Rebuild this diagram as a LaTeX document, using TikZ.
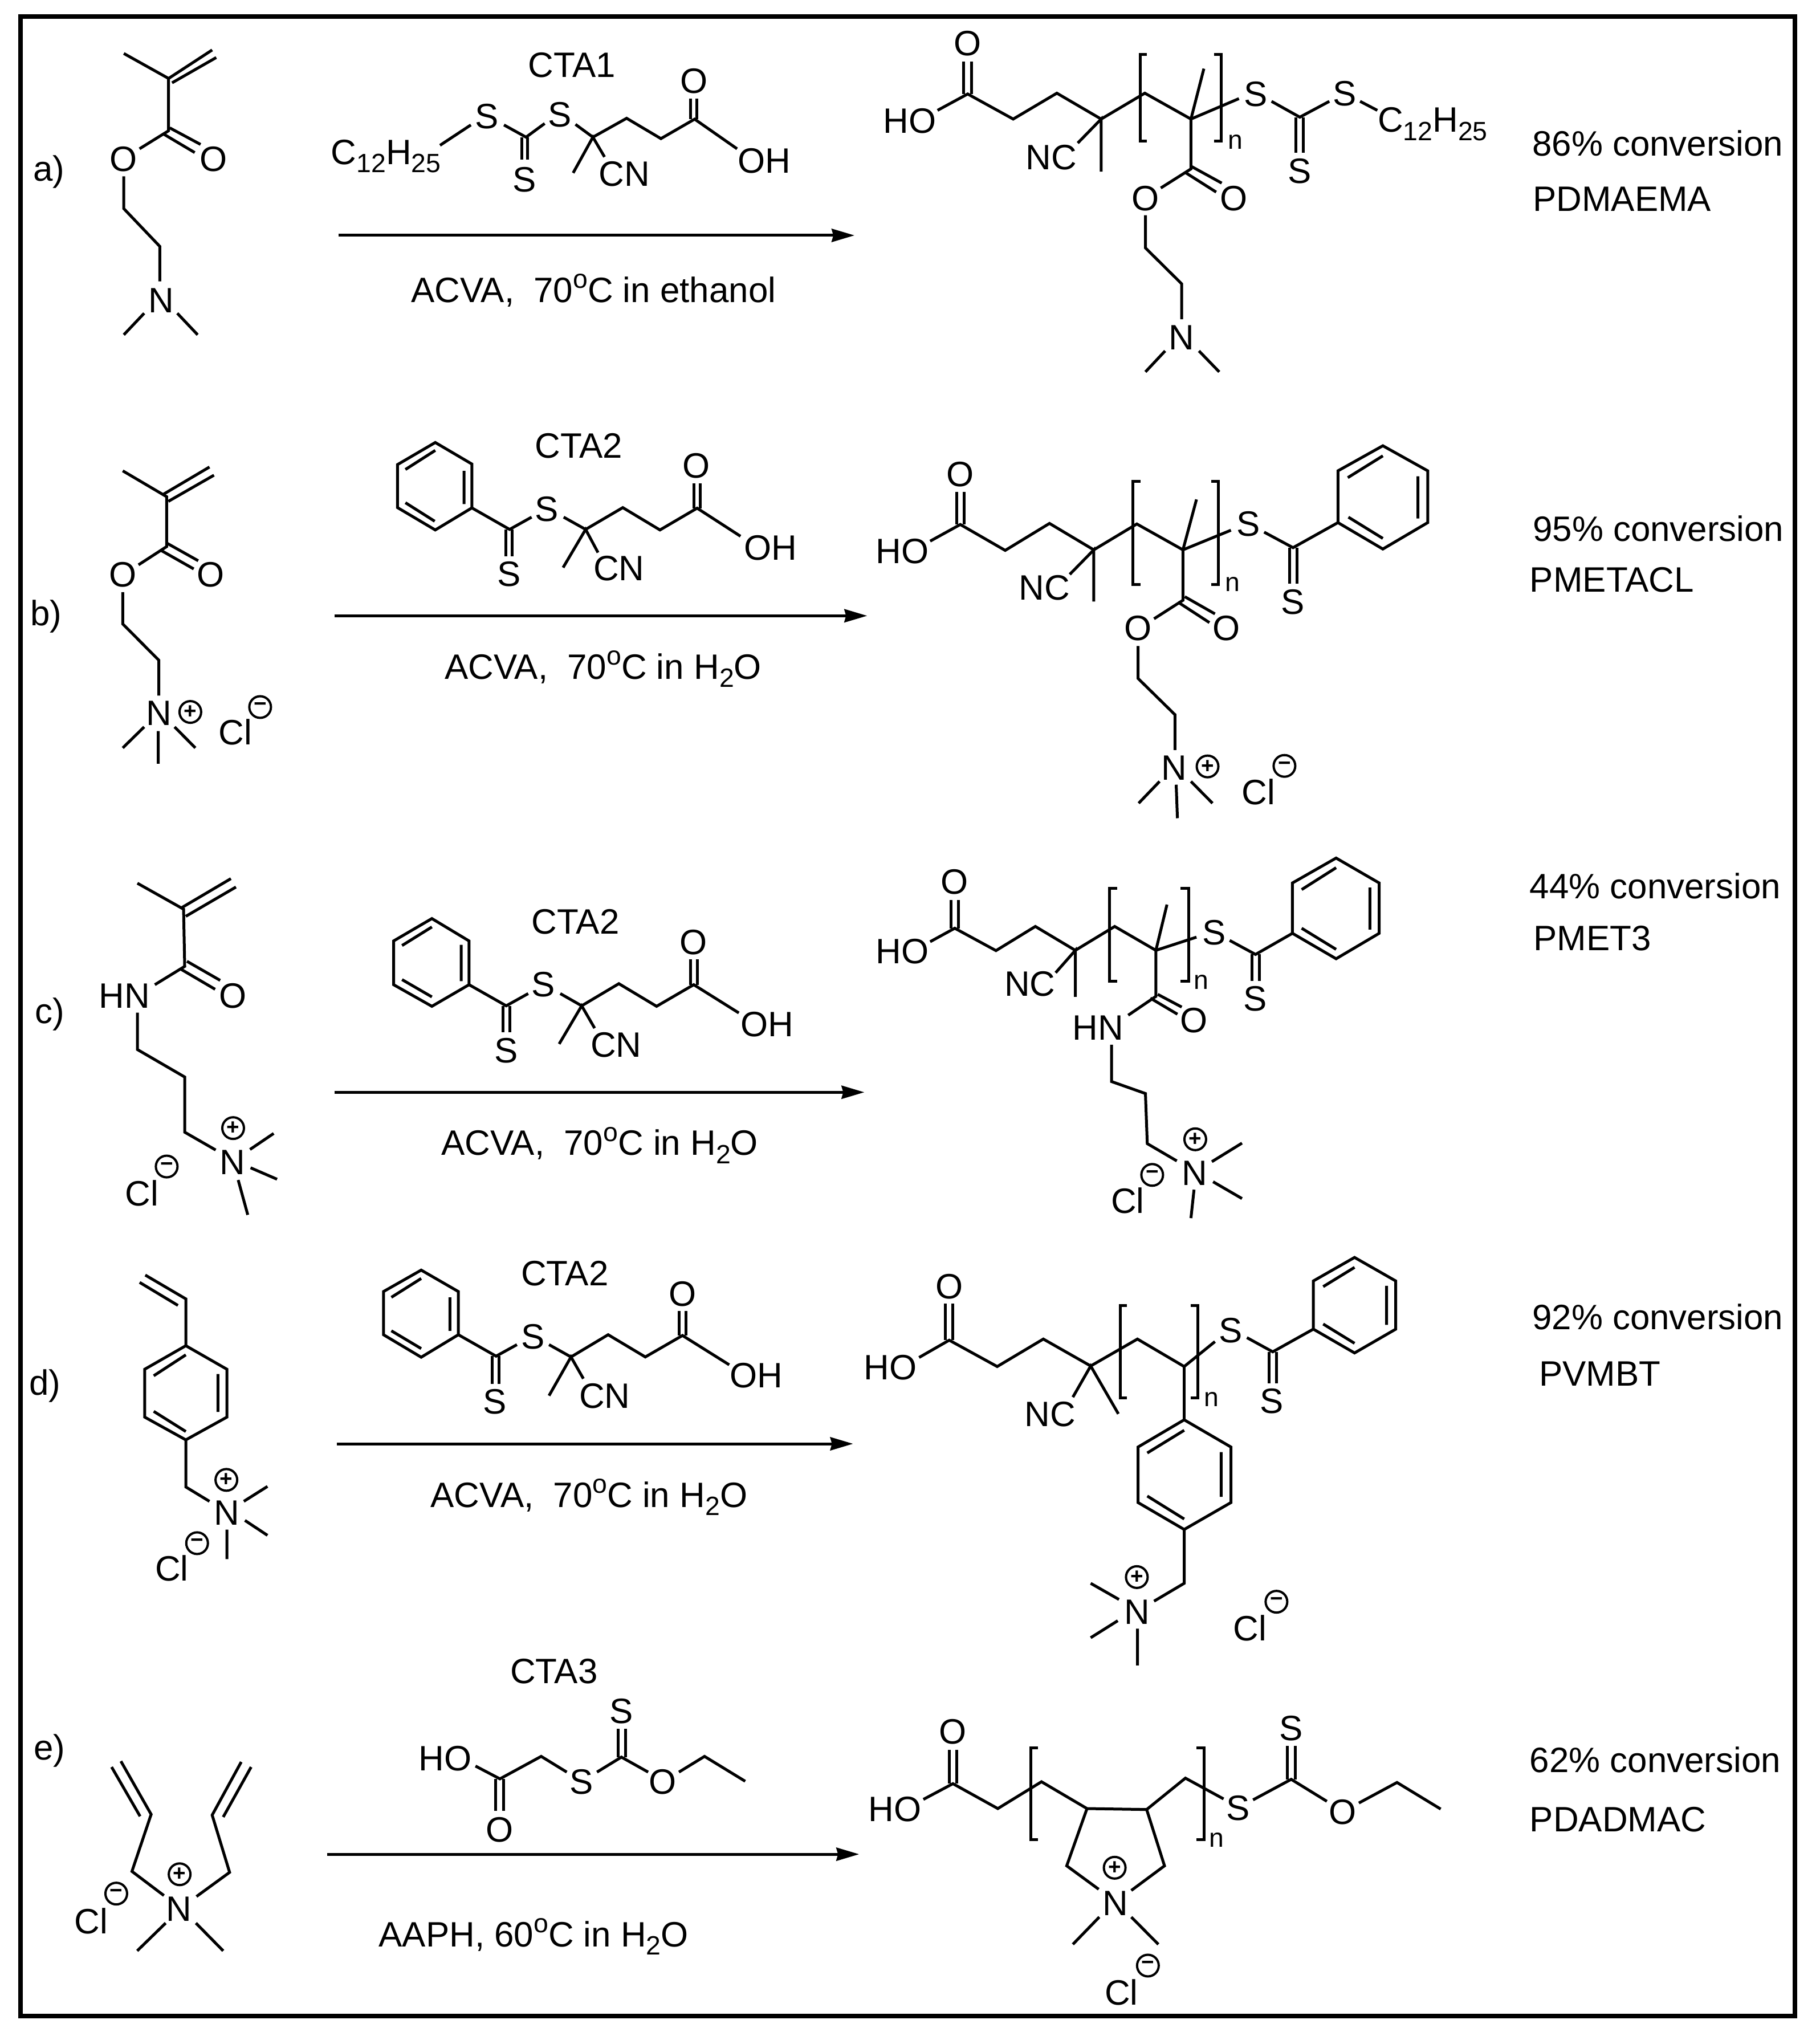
\documentclass[tikz,border=0pt]{standalone}
\usepackage{fontspec}
\setmainfont{Liberation Sans}
\usetikzlibrary{arrows.meta}
\newcommand{\subt}[1]{\raisebox{-.23em}{\fontsize{13.2}{14}\selectfont #1}}
\newcommand{\supo}{\raisebox{.40em}{\fontsize{13.2}{14}\selectfont o}}
\tikzset{
  crop/.style n args={4}{shift={(#1*0.01cm,-#2*0.01cm)},x={#3/1568*0.01cm},y={-#4/1568*0.01cm}},
  bond/.style={line width=0.05cm},
  lbl/.style={inner sep=0pt,outer sep=0pt,font=\fontsize{17.6}{20}\selectfont,anchor=base},
  txt/.style={lbl,anchor=base west},
  idx/.style={inner sep=0pt,outer sep=0pt,font=\fontsize{13.2}{14}\selectfont,anchor=base},
  chg/.style={circle,draw,line width=0.04cm,minimum size=0.38cm,inner sep=0pt,outer sep=0pt,font=\fontsize{11}{12}\selectfont\bfseries},
  rxn/.style={line width=0.05cm,-{Stealth[length=0.40cm,width=0.23cm,inset=0.03cm]}},
}
\begin{document}
\begin{tikzpicture}
\useasboundingbox (0,0) rectangle (31.93,-35.65);
\fill[white] (0,0) rectangle (31.93,-35.65);
\draw[line width=0.08cm] (0.364,-0.29) rectangle (31.49,-35.37);
% ---------- row a, left
\begin{scope}[crop={0}{0}{1600}{800}]
\node[lbl] (aL) at (84,622) {a)};
\node[lbl] (aO1) at (212,590) {O};
\node[lbl] (aO2) at (367,590) {O};
\node[lbl] (aN) at (277,1075) {N};
\node[lbl] (aCTA) at (984,266) {CTA1};
\node[lbl] (aR) at (664,565) {C\subt{12}H\subt{25}};
\node[lbl] (aS1) at (838,443) {S};
\node[lbl] (aS2) at (963,437) {S};
\node[lbl] (aS3) at (902,660) {S};
\node[lbl] (aCN) at (1074,640) {CN};
\node[lbl] (aO3) at (1194,320) {O};
\node[lbl] (aOH) at (1315,595) {OH};
\node[lbl] (aCond) at (1021,1040) {ACVA,\ \ 70\supo C in ethanol};
\coordinate (aS) at (582,810); \coordinate (aE) at (1470,810);
\draw[rxn] (aS) -- (aE);
\draw[bond] (213,184) -- (290,270) -- (290,450) -- (240,512);
\draw[bond] (290,270) -- (365,172) (296,285) -- (372,198);
\draw[bond] (282,462) -- (335,525) (292,440) -- (345,497);
\draw[bond] (213,607) -- (213,718) -- (275,848) -- (275,968);
\draw[bond] (248,1078) -- (213,1152) (305,1078) -- (340,1152);
\draw[bond] (757,500) -- (810,430) (867,430) -- (905,472) -- (937,425);
\draw[bond] (898,472) -- (898,550) (908,472) -- (908,550);
\draw[bond] (990,428) -- (1020,472) -- (1078,407) -- (1137,477) -- (1195,410) -- (1268,512);
\draw[bond] (1188,410) -- (1188,340) (1199,410) -- (1199,340);
\draw[bond] (986,595) -- (1020,472) -- (1040,540);
\end{scope}
% ---------- row a, right
\begin{scope}[crop={1500}{0}{1693}{750}]
\node[lbl] (apO1) at (184,205) {O};
\node[lbl] (apHO) at (90,488) {HO};
\node[lbl] (apNC) at (320,622) {NC};
\node[lbl] (apO2) at (473,772) {O};
\node[lbl] (apO3) at (617,772) {O};
\node[lbl] (apN) at (532,1283) {N};
\node[lbl] (apS1) at (652,390) {S};
\node[lbl] (apS2) at (797,388) {S};
\node[lbl] (apS3) at (724,672) {S};
\node[lbl] (apR) at (940,485) {C\subt{12}H\subt{25}};
\node[idx] (apn) at (619,548) {n};
\node[txt] (aConv) at (1102,572) {86\% conversion};
\node[txt] (aName) at (1103,775) {PDMAEMA};
\draw[bond] (135,405) -- (184,345) -- (258,437) -- (329,342) -- (401,437) -- (472,342) -- (547,437) -- (625,362);
\draw[bond] (177,345) -- (177,225) (190,345) -- (190,225);
\draw[bond] (363,525) -- (401,437) -- (401,630);
\draw[bond] (568,252) -- (547,437) -- (547,620) -- (498,690);
\draw[bond] (537,632) -- (588,705) (547,610) -- (597,672);
\draw[bond] (473,790) -- (473,910) -- (532,1042) -- (532,1172);
\draw[bond] (505,1288) -- (473,1365) (560,1288) -- (593,1365);
\draw[bond] (475,200) -- (465,200) -- (465,518) -- (475,518);
\draw[bond] (585,200) -- (596,200) -- (596,518) -- (585,518);
\draw[bond] (678,372) -- (724,430) -- (772,372);
\draw[bond] (718,430) -- (718,560) (730,430) -- (730,560);
\draw[bond] (822,372) -- (850,405);
\end{scope}
% ---------- row b, left
\begin{scope}[crop={0}{750}{1550}{750}]
\node[lbl] (bL) at (82,728) {b)};
\node[lbl] (bCTA) at (1028,112) {CTA2};
\node[lbl] (bO3) at (1237,185) {O};
\node[lbl] (bS1) at (971,345) {S};
\node[lbl] (bS2) at (904,583) {S};
\node[lbl] (bCN) at (1099,562) {CN};
\node[lbl] (bOH) at (1368,488) {OH};
\node[lbl] (bO1) at (218,585) {O};
\node[lbl] (bO2) at (374,585) {O};
\node[lbl] (bN) at (282,1095) {N};
\node[chg] (bP) at (338,1045) {+};
\node[lbl] (bCl) at (418,1165) {Cl};
\node[chg] (bM) at (462,1027) {−};
\node[lbl] (bCond) at (1071,925) {ACVA,\ \ 70\supo C in H\subt{2}O};
\coordinate (bS) at (594,692); \coordinate (bE) at (1540,692);
\draw[rxn] (bS) -- (bE);
\draw[bond] (218,160) -- (296,255) -- (296,438) -- (246,505);
\draw[bond] (291,245) -- (372,146) (299,272) -- (380,176);
\draw[bond] (286,452) -- (344,520) (296,425) -- (352,490);
\draw[bond] (218,605) -- (218,722) -- (282,855) -- (282,985);
\draw[bond] (256,1100) -- (218,1177) (310,1100) -- (347,1177) (281,1115) -- (281,1235);
\draw[bond] (773,56) -- (838,135) -- (838,296) -- (773,377) -- (706,295) -- (706,137) -- cycle;
\draw[bond] (773,85) -- (720,155) (824,160) -- (824,282) (772,345) -- (720,277);
\draw[bond] (838,296) -- (905,375) -- (944,330);
\draw[bond] (898,375) -- (898,473) (910,375) -- (910,473);
\draw[bond] (1001,330) -- (1040,375) -- (1106,295) -- (1172,377) -- (1238,297) -- (1315,400);
\draw[bond] (1232,297) -- (1232,205) (1244,297) -- (1244,205);
\draw[bond] (1000,515) -- (1040,375) -- (1062,460);
\end{scope}
% ---------- row b, right
\begin{scope}[crop={1500}{750}{1693}{750}]
\node[lbl] (bpO1) at (172,218) {O};
\node[lbl] (bpHO) at (78,500) {HO};
\node[lbl] (bpNC) at (309,633) {NC};
\node[lbl] (bpO2) at (461,782) {O};
\node[lbl] (bpO3) at (605,782) {O};
\node[lbl] (bpN) at (520,1295) {N};
\node[chg] (bpP) at (574,1245) {+};
\node[lbl] (bpCl) at (657,1385) {Cl};
\node[chg] (bpM) at (699,1243) {−};
\node[idx] (bpn) at (615,603) {n};
\node[lbl] (bpS1) at (640,400) {S};
\node[lbl] (bpS2) at (713,685) {S};
\node[txt] (bConv) at (1103,418) {95\% conversion};
\node[txt] (bName) at (1098,605) {PMETACL};
\draw[bond] (123,418) -- (172,357) -- (245,452) -- (317,353) -- (389,450) -- (459,355) -- (534,450) -- (612,378);
\draw[bond] (166,357) -- (166,238) (178,357) -- (178,238);
\draw[bond] (350,540) -- (389,450) -- (389,640);
\draw[bond] (556,265) -- (534,450) -- (534,635) -- (487,703);
\draw[bond] (526,642) -- (577,717) (537,622) -- (586,685);
\draw[bond] (461,803) -- (461,922) -- (521,1055) -- (521,1185);
\draw[bond] (496,1300) -- (462,1380) (547,1300) -- (582,1380) (523,1312) -- (525,1435);
\draw[bond] (465,198) -- (453,198) -- (453,577) -- (465,577);
\draw[bond] (580,198) -- (592,198) -- (592,577) -- (580,577);
\draw[bond] (666,385) -- (713,442) -- (786,350);
\draw[bond] (859,68) -- (932,160) -- (932,350) -- (859,447) -- (786,350) -- (786,160) -- cycle;
\draw[bond] (859,105) -- (802,185) (916,180) -- (916,335) (859,408) -- (803,330);
\draw[bond] (707,442) -- (707,575) (719,442) -- (719,575);
\end{scope}
% ---------- row c, left
\begin{scope}[crop={0}{1500}{1550}{700}]
\node[lbl] (cL) at (88,665) {c)};
\node[lbl] (cHN) at (221,603) {HN};
\node[lbl] (cO1) at (414,603) {O};
\node[lbl] (cN) at (413,1258) {N};
\node[chg] (cP) at (414,1076) {+};
\node[lbl] (cCl) at (252,1382) {Cl};
\node[chg] (cM) at (296,1227) {−};
\node[lbl] (cCTA) at (1022,312) {CTA2};
\node[lbl] (cO3) at (1231,393) {O};
\node[lbl] (cS1) at (965,560) {S};
\node[lbl] (cS2) at (899,818) {S};
\node[lbl] (cCN) at (1094,797) {CN};
\node[lbl] (cOH) at (1362,715) {OH};
\node[lbl] (cCond) at (1065,1183) {ACVA,\ \ 70\supo C in H\subt{2}O};
\coordinate (cS) at (594,935); \coordinate (cE) at (1535,935);
\draw[rxn] (cS) -- (cE);
\draw[bond] (244,113) -- (326,215) -- (328,440) -- (275,512);
\draw[bond] (322,210) -- (410,95) (330,243) -- (419,128);
\draw[bond] (322,452) -- (382,530) (332,420) -- (391,495);
\draw[bond] (244,622) -- (244,767) -- (328,875) -- (328,1092) -- (383,1162);
\draw[bond] (444,1160) -- (486,1097) (445,1232) -- (492,1277) (423,1280) -- (440,1417);
\draw[bond] (767,252) -- (833,340) -- (833,512) -- (767,597) -- (699,512) -- (699,340) -- cycle;
\draw[bond] (767,285) -- (714,358) (819,355) -- (819,498) (767,560) -- (714,492);
\draw[bond] (833,512) -- (899,595) -- (938,547);
\draw[bond] (893,595) -- (893,698) (905,595) -- (905,698);
\draw[bond] (995,547) -- (1033,595) -- (1099,508) -- (1166,597) -- (1232,512) -- (1312,623);
\draw[bond] (1226,512) -- (1226,413) (1238,512) -- (1238,413);
\draw[bond] (993,745) -- (1033,595) -- (1056,683);
\end{scope}
% ---------- row c, right
\begin{scope}[crop={1500}{1500}{1693}{700}]
\node[lbl] (cpO1) at (163,155) {O};
\node[lbl] (cpHO) at (78,430) {HO};
\node[lbl] (cpNC) at (285,557) {NC};
\node[lbl] (cpHN) at (396,730) {HN};
\node[lbl] (cpO2) at (552,700) {O};
\node[lbl] (cpN) at (553,1300) {N};
\node[chg] (cpP) at (554,1120) {+};
\node[lbl] (cpCl) at (444,1410) {Cl};
\node[chg] (cpM) at (484,1260) {−};
\node[idx] (cpn) at (564,530) {n};
\node[lbl] (cpS1) at (585,355) {S};
\node[lbl] (cpS2) at (651,615) {S};
\node[txt] (cConv) at (1098,173) {44\% conversion};
\node[txt] (cName) at (1104,377) {PMET3};
\draw[bond] (123,343) -- (163,290) -- (230,378) -- (294,283) -- (359,377) -- (423,283) -- (490,377) -- (556,325);
\draw[bond] (157,290) -- (157,178) (169,290) -- (169,178);
\draw[bond] (327,465) -- (359,377) -- (359,560);
\draw[bond] (508,197) -- (490,377) -- (490,558) -- (445,632);
\draw[bond] (481,565) -- (525,628) (493,550) -- (532,600);
\draw[bond] (418,748) -- (418,893) -- (473,940) -- (476,1137) -- (524,1205);
\draw[bond] (581,1208) -- (630,1135) (583,1287) -- (630,1353) (552,1318) -- (547,1430);
\draw[bond] (427,132) -- (415,132) -- (415,498) -- (427,498);
\draw[bond] (530,132) -- (543,132) -- (543,498) -- (530,498);
\draw[bond] (610,338) -- (652,393) -- (712,310);
\draw[bond] (783,14) -- (853,112) -- (853,310) -- (783,410) -- (712,310) -- (712,112) -- cycle;
\draw[bond] (783,52) -- (727,138) (838,130) -- (838,295) (783,373) -- (727,290);
\draw[bond] (646,393) -- (646,498) (658,393) -- (658,498);
\end{scope}
% ---------- row d, left
\begin{scope}[crop={0}{2180}{1550}{720}]
\node[lbl] (dL) at (80,585) {d)};
\node[lbl] (dN) at (403,1083) {N};
\node[chg] (dP) at (402,910) {+};
\node[lbl] (dCl) at (305,1297) {Cl};
\node[chg] (dM) at (350,1152) {−};
\node[lbl] (dCTA) at (1003,167) {CTA2};
\node[lbl] (dO3) at (1212,245) {O};
\node[lbl] (dS1) at (947,410) {S};
\node[lbl] (dS2) at (879,657) {S};
\node[lbl] (dCN) at (1074,636) {CN};
\node[lbl] (dOH) at (1343,558) {OH};
\node[lbl] (dCond) at (1046,1015) {ACVA,\ \ 70\supo C in H\subt{2}O};
\coordinate (dS) at (598,772); \coordinate (dE) at (1515,772);
\draw[rxn] (dS) -- (dE);
\draw[bond] (258,127) -- (330,218) -- (330,397) (248,155) -- (316,243);
\draw[bond] (330,397) -- (403,487) -- (403,670) -- (330,757) -- (257,670) -- (257,487) -- cycle;
\draw[bond] (330,432) -- (273,512) (387,505) -- (387,650) (330,725) -- (273,648);
\draw[bond] (330,757) -- (330,937) -- (372,992);
\draw[bond] (433,992) -- (475,935) (435,1065) -- (475,1122) (403,1100) -- (403,1213);
\draw[bond] (748,108) -- (814,190) -- (814,355) -- (748,441) -- (681,355) -- (681,190) -- cycle;
\draw[bond] (748,140) -- (695,212) (799,212) -- (799,340) (748,408) -- (695,340);
\draw[bond] (814,355) -- (881,437) -- (918,393);
\draw[bond] (874,437) -- (874,543) (886,437) -- (886,543);
\draw[bond] (975,393) -- (1014,440) -- (1080,355) -- (1146,440) -- (1212,358) -- (1295,470);
\draw[bond] (1206,358) -- (1206,265) (1218,358) -- (1218,265);
\draw[bond] (975,588) -- (1014,440) -- (1036,523);
\end{scope}
% ---------- row d, right
\begin{scope}[crop={1500}{2180}{1693}{780}]
\node[lbl] (dpO1) at (154,200) {O};
\node[lbl] (dpHO) at (58,487) {HO};
\node[lbl] (dpNC) at (318,652) {NC};
\node[idx] (dpn) at (580,580) {n};
\node[lbl] (dpS1) at (612,355) {S};
\node[lbl] (dpS2) at (678,605) {S};
\node[lbl] (dpN) at (459,1350) {N};
\node[chg] (dpP) at (459,1183) {+};
\node[lbl] (dpCl) at (643,1407) {Cl};
\node[chg] (dpM) at (686,1270) {−};
\node[txt] (dConv) at (1102,310) {92\% conversion};
\node[txt] (dName) at (1113,508) {PVMBT};
\draw[bond] (105,408) -- (154,347) -- (232,440) -- (307,343) -- (384,438) -- (460,343) -- (536,440) -- (586,352);
\draw[bond] (148,347) -- (148,218) (160,347) -- (160,218);
\draw[bond] (355,548) -- (384,438) -- (429,607);
\draw[bond] (536,440) -- (536,628);
\draw[bond] (536,628) -- (612,724) -- (612,920) -- (536,1015) -- (461,920) -- (461,724) -- cycle;
\draw[bond] (536,665) -- (476,745) (596,742) -- (596,900) (536,978) -- (476,897);
\draw[bond] (536,1015) -- (536,1205) -- (487,1268);
\draw[bond] (430,1262) -- (384,1205) (428,1337) -- (384,1397) (460,1365) -- (460,1495);
\draw[bond] (443,225) -- (432,225) -- (432,550) -- (443,550);
\draw[bond] (547,225) -- (558,225) -- (558,550) -- (547,550);
\draw[bond] (638,338) -- (680,388) -- (746,308);
\draw[bond] (813,55) -- (880,138) -- (880,308) -- (813,392) -- (746,308) -- (746,138) -- cycle;
\draw[bond] (813,90) -- (762,158) (865,155) -- (865,293) (813,358) -- (762,290);
\draw[bond] (674,388) -- (674,500) (686,388) -- (686,500);
\end{scope}
% ---------- row e, left
\begin{scope}[crop={0}{2900}{1600}{665}]
\node[lbl] (eL) at (85,447) {e)};
\node[lbl] (eN) at (308,1115) {N};
\node[chg] (eP) at (309,920) {+};
\node[lbl] (eCl) at (157,1165) {Cl};
\node[chg] (eM) at (200,1000) {−};
\node[lbl] (eCTA) at (953,130) {CTA3};
\node[lbl] (eHO) at (766,490) {HO};
\node[lbl] (eO1) at (860,785) {O};
\node[lbl] (eS1) at (1000,587) {S};
\node[lbl] (eS2) at (1069,295) {S};
\node[lbl] (eO2) at (1140,587) {O};
\node[lbl] (eCond) at (918,1220) {AAPH, 60\supo C in H\subt{2}O};
\coordinate (eS) at (563,837); \coordinate (eE) at (1478,837);
\draw[rxn] (eS) -- (eE);
\draw[bond] (208,452) -- (260,672) -- (227,908) -- (282,1008) (192,476) -- (241,680);
\draw[bond] (415,455) -- (365,675) -- (395,912) -- (338,1012) (432,476) -- (384,683);
\draw[bond] (285,1122) -- (236,1237) (337,1122) -- (384,1237);
\draw[bond] (818,472) -- (860,525) -- (931,432) -- (975,497);
\draw[bond] (1027,497) -- (1069,435) -- (1115,497);
\draw[bond] (1168,497) -- (1212,432) -- (1282,535);
\draw[bond] (853,525) -- (853,658) (866,525) -- (866,658);
\draw[bond] (1063,435) -- (1063,317) (1076,435) -- (1076,317);
\end{scope}
% ---------- row e, right
\begin{scope}[crop={1500}{2900}{1693}{665}]
\node[lbl] (epO1) at (160,380) {O};
\node[lbl] (epHO) at (66,700) {HO};
\node[lbl] (epS1) at (624,697) {S};
\node[lbl] (epS2) at (710,365) {S};
\node[lbl] (epO2) at (794,713) {O};
\node[lbl] (epN) at (424,1090) {N};
\node[chg] (epP) at (423,893) {+};
\node[lbl] (epCl) at (434,1462) {Cl};
\node[chg] (epM) at (477,1298) {−};
\node[idx] (epn) at (589,808) {n};
\node[txt] (eConv) at (1098,498) {62\% conversion};
\node[txt] (eName) at (1098,743) {PDADMAC};
\draw[bond] (112,610) -- (160,545) -- (233,648) -- (304,537) -- (378,648) -- (475,652) -- (538,522) -- (600,608);
\draw[bond] (648,612) -- (710,527) -- (768,618);
\draw[bond] (820,625) -- (882,540) -- (953,650);
\draw[bond] (154,545) -- (154,405) (166,545) -- (166,405);
\draw[bond] (704,527) -- (704,388) (717,527) -- (717,388);
\draw[bond] (378,648) -- (345,885) -- (397,982);
\draw[bond] (475,652) -- (504,885) -- (450,987);
\draw[bond] (398,1097) -- (355,1210) (450,1097) -- (494,1210);
\draw[bond] (298,397) -- (287,397) -- (287,777) -- (298,777);
\draw[bond] (556,397) -- (568,397) -- (568,777) -- (556,777);
\end{scope}
\end{tikzpicture}
\end{document}
